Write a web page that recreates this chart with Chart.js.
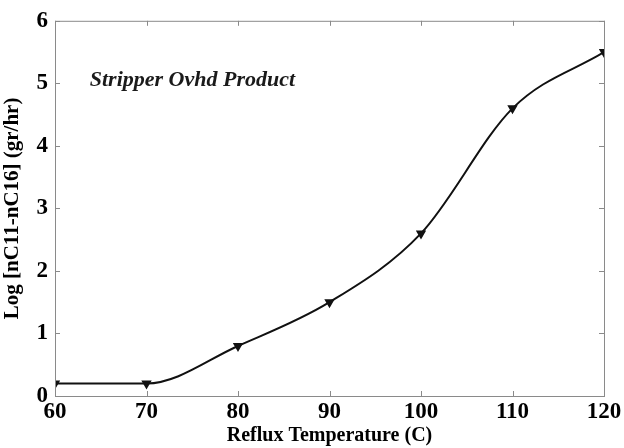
<!DOCTYPE html>
<html>
<head>
<meta charset="utf-8">
<script src="https://cdn.jsdelivr.net/npm/chart.js@4"></script>
<style>
  html, body { margin: 0; padding: 0; background: #fff; }
  #wrap { width: 624px; height: 448px; }
</style>
</head>
<body>
<div id="wrap"><canvas id="chart" width="624" height="448"></canvas></div>
<script>
// values
const temps = [60, 70, 80, 90, 100, 110, 120];
const logFlow = [0.2, 0.2, 0.8, 1.5, 2.6, 4.6, 5.5];
const xTicks = [60, 70, 80, 90, 100, 110, 120];
const yTicks = [0, 1, 2, 3, 4, 5, 6];
const noteText = 'Stripper Ovhd Product';

const serif = '"Liberation Serif", "DejaVu Serif", serif';

// box frame with inward ticks on all four sides, plus the note
const framePlugin = {
    id: 'frame',
    afterDraw(chart) {
        const ctx = chart.ctx;
        const a = chart.chartArea;
        const xs = chart.scales.x;
        const ys = chart.scales.y;
        ctx.save();
        ctx.strokeStyle = '#8a8a8a';
        ctx.lineWidth = 1;
        ctx.strokeRect(a.left + 0.5, a.top + 0.5, a.right - a.left, a.bottom - a.top);
        ctx.beginPath();
        xTicks.forEach(v => {
            const px = Math.round(xs.getPixelForValue(v)) + 0.5;
            ctx.moveTo(px, a.bottom); ctx.lineTo(px, a.bottom - 5);
            ctx.moveTo(px, a.top); ctx.lineTo(px, a.top + 5);
        });
        yTicks.forEach(v => {
            const py = Math.round(ys.getPixelForValue(v)) + 0.5;
            ctx.moveTo(a.left, py); ctx.lineTo(a.left + 5, py);
            ctx.moveTo(a.right, py); ctx.lineTo(a.right - 5, py);
        });
        ctx.stroke();

        ctx.fillStyle = '#1a1a1a';
        ctx.font = 'italic bold 22px ' + serif;
        ctx.textAlign = 'left';
        ctx.textBaseline = 'middle';
        ctx.fillText(noteText, xs.getPixelForValue(63.8), ys.getPixelForValue(5.05));
        ctx.restore();
    }
};

const points = temps.map((t, i) => ({ x: t, y: logFlow[i] }));

new Chart(document.getElementById('chart'), {
    type: 'line',
    data: {
        datasets: [{
            data: points,
            borderColor: '#111',
            backgroundColor: '#111',
            borderWidth: 2,
            cubicInterpolationMode: 'monotone',
            pointStyle: 'triangle',
            rotation: 180,
            pointRadius: 4,
            pointHoverRadius: 4
        }]
    },
    options: {
        responsive: false,
        animation: false,
        events: [],
        layout: { padding: { top: 18, right: 20, left: 0, bottom: 0 } },
        plugins: {
            legend: { display: false },
            tooltip: { enabled: false }
        },
        scales: {
            x: {
                type: 'linear',
                min: 60,
                max: 120,
                afterBuildTicks: s => { s.ticks = xTicks.map(v => ({ value: v })); },
                afterFit: s => { s.height = 52; },
                grid: { display: false, drawTicks: false },
                border: { display: false },
                ticks: {
                    color: '#000',
                    padding: 2,
                    font: { family: serif, size: 23, weight: 'bold' }
                },
                title: {
                    display: true,
                    text: 'Reflux Temperature (C)',
                    color: '#000',
                    padding: 0,
                    font: { family: serif, size: 20, weight: 'bold' }
                }
            },
            y: {
                min: 0,
                max: 6,
                afterBuildTicks: s => { s.ticks = yTicks.map(v => ({ value: v })); },
                afterFit: s => { s.width = 55; },
                grid: { display: false, drawTicks: false },
                border: { display: false },
                ticks: {
                    color: '#000',
                    padding: 7,
                    font: { family: serif, size: 23, weight: 'bold' }
                },
                title: {
                    display: true,
                    text: 'Log [nC11-nC16] (gr/hr)',
                    color: '#000',
                    padding: 0,
                    font: { family: serif, size: 21, weight: 'bold' }
                }
            }
        }
    },
    plugins: [framePlugin]
});
</script>
</body>
</html>
